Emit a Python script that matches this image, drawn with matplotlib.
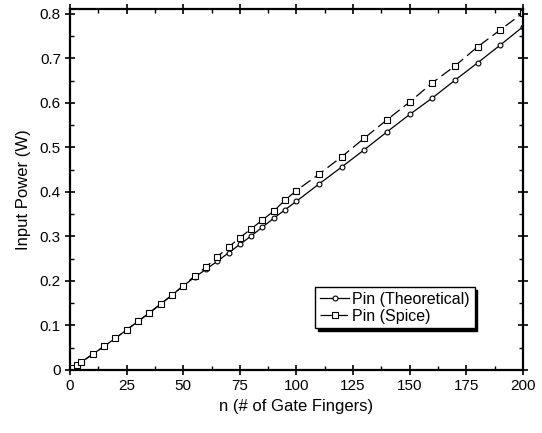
import matplotlib
matplotlib.use("Agg")
import matplotlib.pyplot as plt
from matplotlib.ticker import MultipleLocator

plt.rcParams['font.family'] = ['Liberation Sans', 'DejaVu Sans']

# gate fingers
n = [1, 3, 5, 10, 15, 20, 25, 30, 35, 40, 45, 50, 55, 60, 65, 70, 75, 80, 85,
     90, 95, 100, 110, 120, 130, 140, 150, 160, 170, 180, 190, 200]

# input power (W), theoretical vs spice
pin_theory = [0.004, 0.011, 0.018, 0.035, 0.053, 0.071, 0.090, 0.109, 0.128,
              0.148, 0.168, 0.189, 0.208, 0.226, 0.244, 0.263, 0.282, 0.301,
              0.321, 0.341, 0.360, 0.379, 0.418, 0.456, 0.495, 0.535, 0.574,
              0.611, 0.651, 0.690, 0.730, 0.771]
pin_spice = [0.004, 0.011, 0.018, 0.035, 0.053, 0.071, 0.090, 0.109, 0.128,
             0.148, 0.168, 0.189, 0.211, 0.231, 0.254, 0.276, 0.297, 0.317,
             0.337, 0.357, 0.382, 0.403, 0.440, 0.479, 0.521, 0.562, 0.602,
             0.645, 0.683, 0.726, 0.764, 0.802]

fig = plt.figure(figsize=(5.42, 4.33), dpi=100)
ax = fig.add_axes([0.129, 0.1455, 0.836, 0.834])

ax.plot(n, pin_theory, color='black', lw=0.9, marker='o', ms=3.5,
        mfc='white', mec='black', mew=0.8, label='Pin (Theoretical)')
ax.plot(n, pin_spice, color='black', lw=0.9, marker='s', ms=4.5,
        mfc='white', mec='black', mew=0.8, dashes=(9, 4),
        label='Pin (Spice)')

ax.set_xlim(0, 200)
ax.set_ylim(0, 0.811)
ax.xaxis.set_major_locator(MultipleLocator(25))
ax.xaxis.set_minor_locator(MultipleLocator(12.5))
ax.yaxis.set_minor_locator(MultipleLocator(0.05))
ax.set_yticks([0, 0.1, 0.2, 0.3, 0.4, 0.5, 0.6, 0.7, 0.8])
ax.set_yticklabels(['0', '0.1', '0.2', '0.3', '0.4', '0.5', '0.6', '0.7', '0.8'])

ax.tick_params(which='major', direction='inout', length=7, width=1.2,
               labelsize=11, top=True, right=True, pad=3)
ax.tick_params(which='minor', direction='in', length=3, width=1.0,
               top=True, right=True)
for s in ax.spines.values():
    s.set_linewidth(1.6)

ax.set_xlabel('n (# of Gate Fingers)', fontsize=12, labelpad=4)
ax.set_ylabel('Input Power (W)', fontsize=12, labelpad=6)

leg = ax.legend(loc='lower right', bbox_to_anchor=(0.893, 0.115), fontsize=11.5,
                frameon=True, fancybox=False,
                shadow={'color': 'black', 'alpha': 1.0},
                handlelength=1.8, handletextpad=0.2, borderpad=0.3,
                labelspacing=0.1, borderaxespad=0)
leg.get_frame().set_edgecolor('black')
leg.get_frame().set_linewidth(1.0)
leg.get_frame().set_alpha(1.0)

fig.savefig('out.png', dpi=100)
